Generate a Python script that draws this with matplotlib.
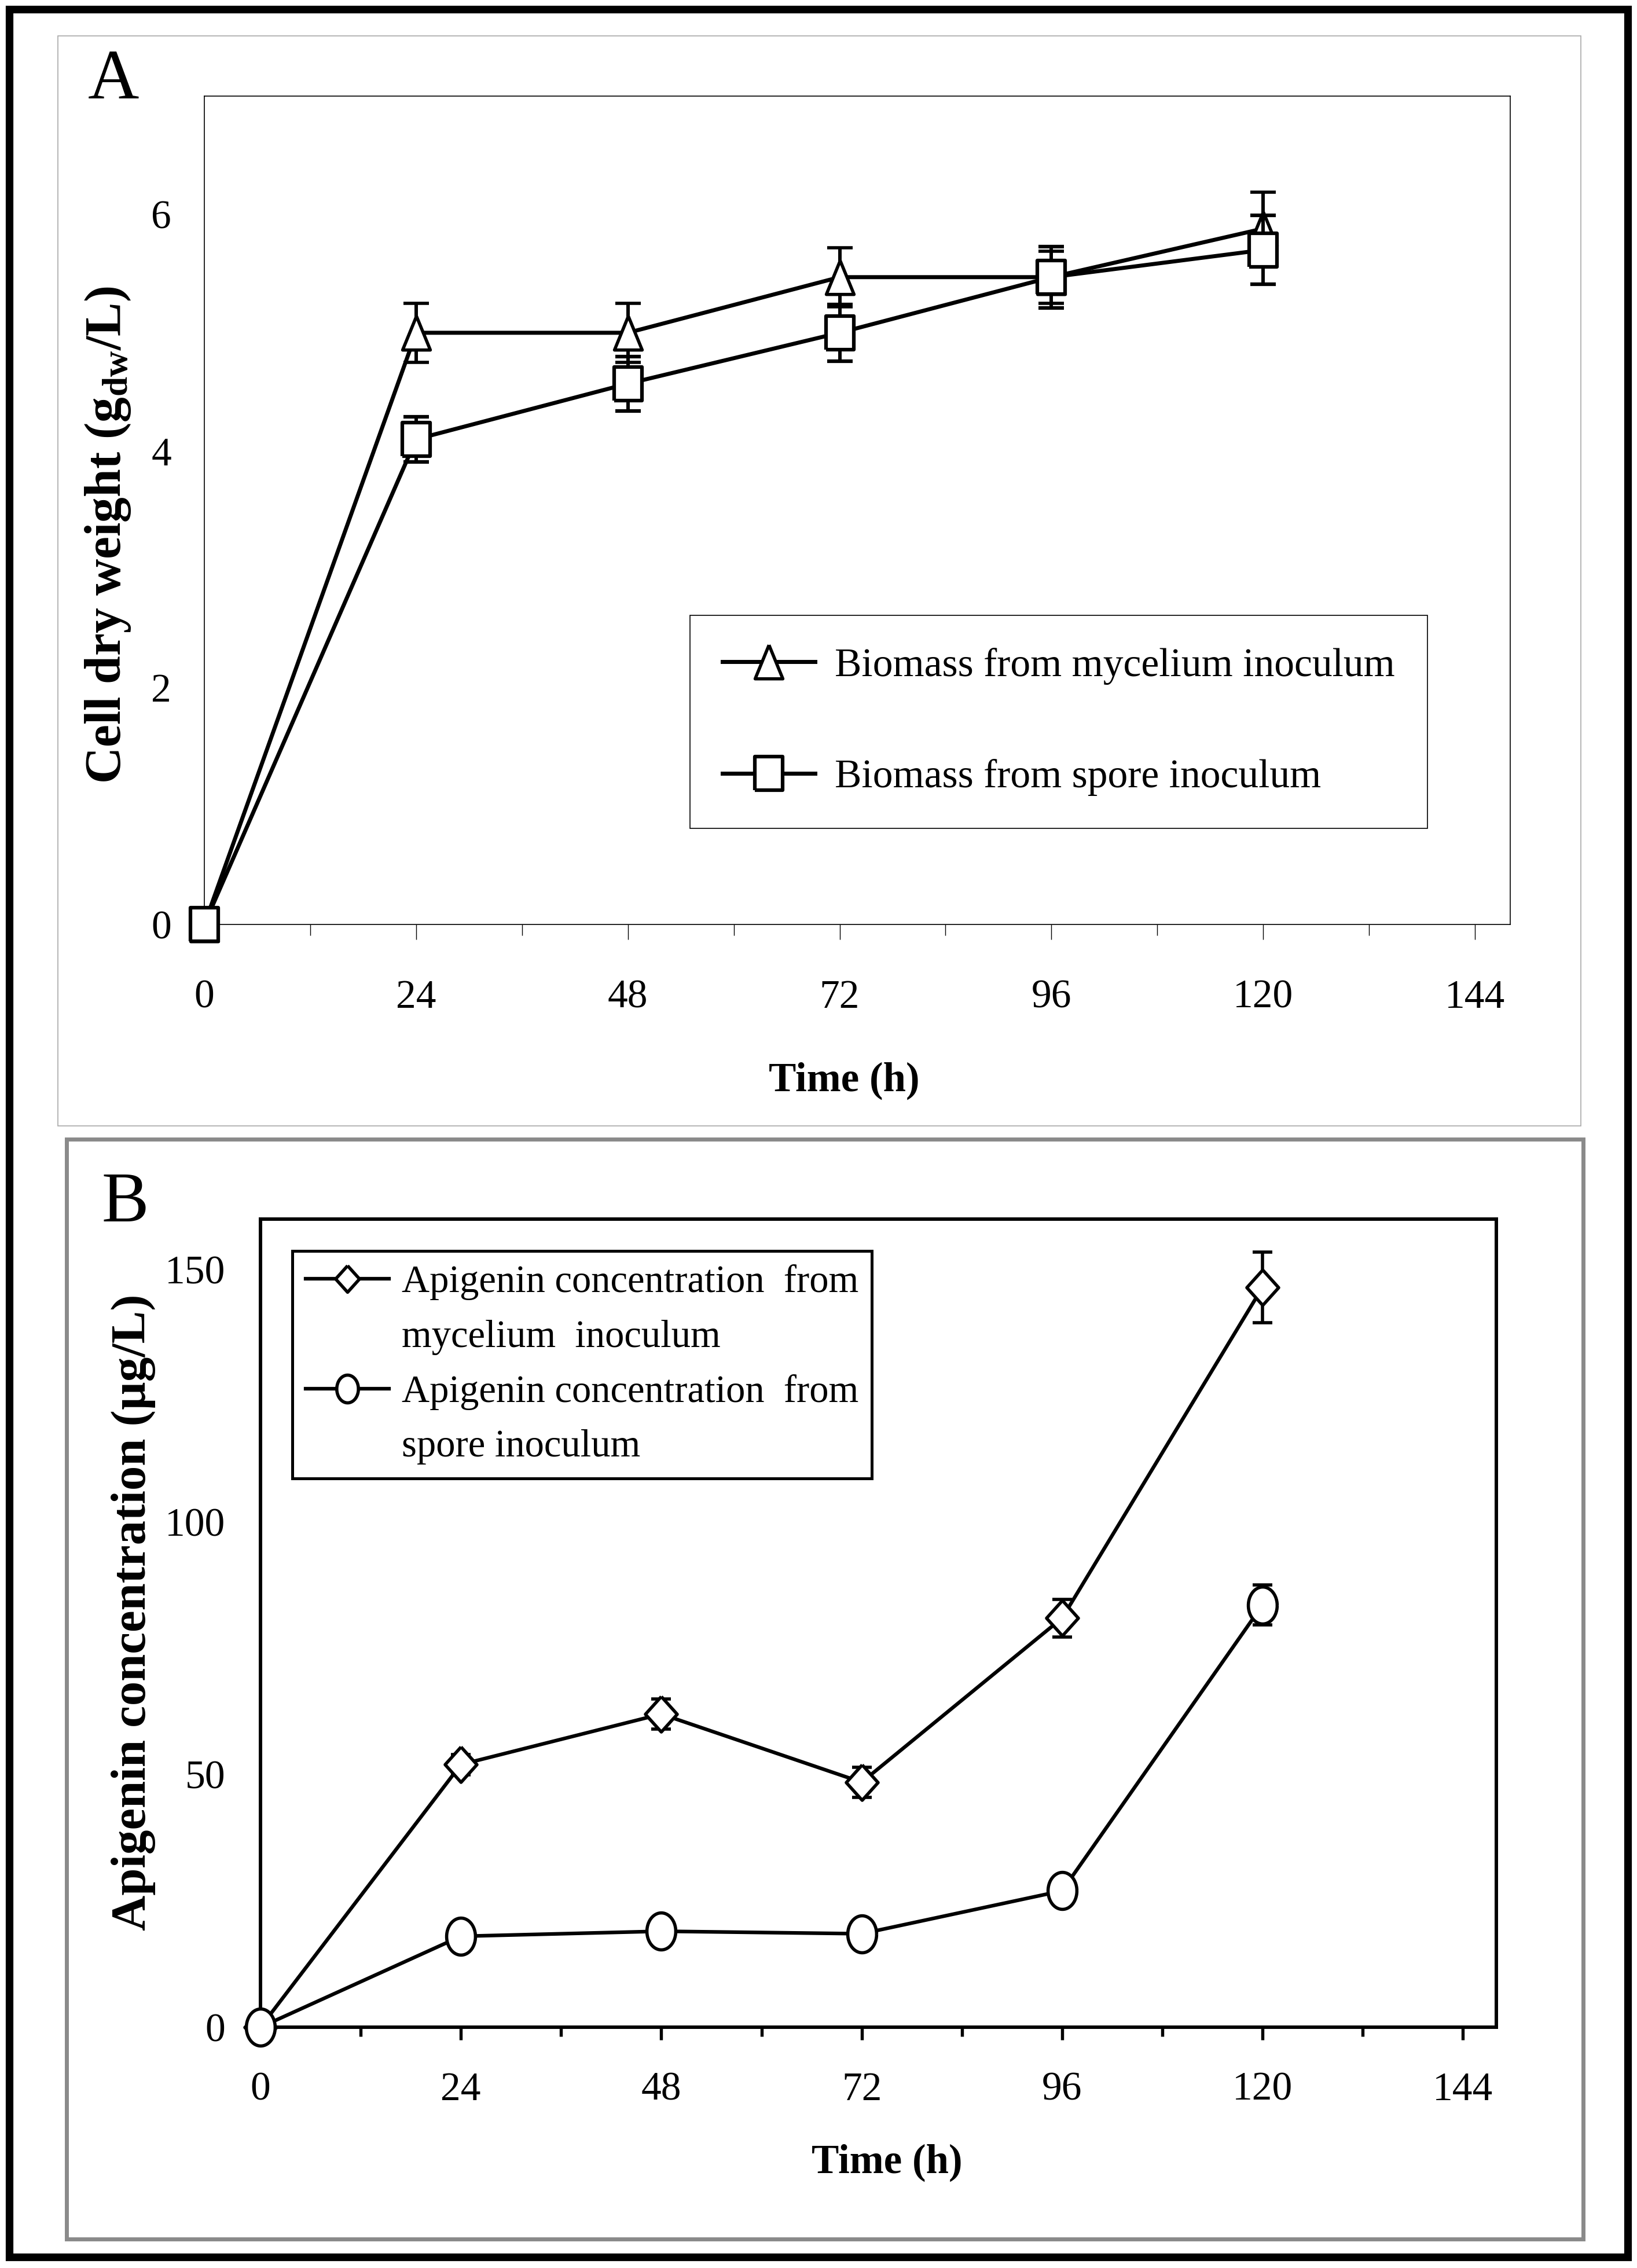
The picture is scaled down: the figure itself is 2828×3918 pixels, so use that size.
import numpy as np
import matplotlib
matplotlib.use("Agg")
import matplotlib.pyplot as plt
from matplotlib.patches import Rectangle
from matplotlib.lines import Line2D
from matplotlib.ticker import MultipleLocator

plt.rcParams.update({"font.family": ["Liberation Serif", "DejaVu Serif"],
                     "mathtext.fontset": "custom", "mathtext.rm": "Liberation Serif",
                     "mathtext.it": "Liberation Serif:italic", "mathtext.bf": "Liberation Serif:bold"})

# ---- data ----
time_h = [0, 24, 48, 72, 96, 120]
biomass_mycelium = [0, 5.0, 5.0, 5.47, 5.47, 5.88]
biomass_mycelium_err = [0, 0.25, 0.25, 0.25, 0.22, 0.31]
biomass_spore = [0, 4.10, 4.57, 5.0, 5.47, 5.70]
biomass_spore_err = [0, 0.19, 0.23, 0.24, 0.26, 0.29]

apigenin_mycelium = [0, 52, 62, 48.5, 81, 146.5]
apigenin_mycelium_err = [0, 2, 3, 3, 3.7, 7]
apigenin_spore = [0, 18, 19, 18.5, 27, 83.6]
apigenin_spore_err = [0, 1, 1, 1, 1, 4]

x_ticks = [0, 24, 48, 72, 96, 120, 144]
ticks_A = [0, 2, 4, 6]
ticks_B = [0, 50, 100, 150]

# ---- figure in pixel units (2828 x 3918) ----
W, H = 2828, 3918
fx = lambda p: p / W
fy = lambda p: 1 - p / H
fig = plt.figure(figsize=(W / 100, H / 100), dpi=100)

# slightly tall marker shapes (source image is stretched vertically)
k = 0.82
tri = [(0, 1), (-k, -1), (k, -1), (0, 1)]
sq = [(-k, -1), (k, -1), (k, 1), (-k, 1), (-k, -1)]
dia = [(0, 1), (-0.9, 0), (0, -1), (0.9, 0), (0, 1)]
t = np.linspace(0, 2 * np.pi, 60)
ell = list(zip(0.78 * np.cos(t), np.sin(t)))

# frames around the panels
fig.add_artist(Rectangle((fx(16), fy(3899)), (2812 - 16) / W, (3899 - 16) / H, transform=fig.transFigure,
                         fill=False, ec="black", lw=9.5))
fig.add_artist(Rectangle((fx(100), fy(1945)), (2731 - 100) / W, (1945 - 62) / H, transform=fig.transFigure,
                         fill=False, ec="#a8a8a8", lw=1.2))
fig.add_artist(Rectangle((fx(115), fy(3868)), (2735 - 115) / W, (3868 - 1968) / H, transform=fig.transFigure,
                         fill=False, ec="#8a8a8a", lw=5))

# ============ Panel A ============
axA = fig.add_axes([fx(353), fy(1597), (2609 - 353) / W, (1597 - 166) / H])
e1 = axA.errorbar(time_h, biomass_mycelium, yerr=biomass_mycelium_err, color="black", lw=5,
                  marker=tri, ms=42, mfc="white", mec="black", mew=4, capsize=16, capthick=4.3,
                  elinewidth=4.3, clip_on=False, zorder=3)
e2 = axA.errorbar(time_h, biomass_spore, yerr=biomass_spore_err, color="black", lw=5,
                  marker=sq, ms=42, mfc="white", mec="black", mew=4.5, capsize=16, capthick=4.3,
                  elinewidth=4.3, clip_on=False, zorder=4)
axA.set_xlim(0, 148); axA.set_ylim(0, 7)
axA.xaxis.set_major_locator(MultipleLocator(24)); axA.xaxis.set_minor_locator(MultipleLocator(12))
axA.set_xticks(x_ticks); axA.set_yticks(ticks_A)
axA.tick_params(axis="x", which="major", direction="out", length=18.7, width=1, pad=50, labelsize=50)
axA.tick_params(axis="x", which="minor", direction="out", length=13.7, width=1)
axA.tick_params(axis="y", length=0, pad=41, labelsize=50)
for s in axA.spines.values():
    s.set_linewidth(1.2); s.set_color("black")
axA.set_xlabel("Time (h)", fontsize=51, fontweight="bold")
axA.xaxis.set_label_coords(0.49, -0.189); axA.xaxis.label.set_va("center")
axA.set_ylabel(r"Cell dry weight (g$_{\mathregular{dw}}$/L)", fontsize=63, fontweight="bold")
axA.yaxis.set_label_coords(-0.074, 0.47); axA.yaxis.label.set_va("center")
legA = axA.legend([e1[0], e2[0]], ["Biomass from mycelium inoculum", "Biomass from spore inoculum"],
                  loc="upper left", bbox_to_anchor=(0.372, 0.373), borderaxespad=0, fontsize=50,
                  handlelength=2.3, handletextpad=0.5, borderpad=0.8, labelspacing=1.85,
                  fancybox=False, framealpha=1, edgecolor="black")
legA.get_frame().set_linewidth(1.2)
fig.text(fx(196), fy(170), "A", fontsize=88, ha="center", va="baseline")

# ============ Panel B ============
axB = fig.add_axes([fx(450), fy(3502), (2585 - 450) / W, (3502 - 2106) / H])
b1 = axB.errorbar(time_h, apigenin_mycelium, yerr=apigenin_mycelium_err, color="black", lw=4.5,
                  marker=dia, ms=44, mfc="white", mec="black", mew=4, capsize=12.4, capthick=4,
                  elinewidth=4, clip_on=False, zorder=3)
b2 = axB.errorbar(time_h, apigenin_spore, yerr=apigenin_spore_err, color="black", lw=4.5,
                  marker=ell, ms=46, mfc="white", mec="black", mew=4, capsize=12.4, capthick=4,
                  elinewidth=4, clip_on=False, zorder=4)
axB.set_xlim(0, 148); axB.set_ylim(0, 160)
axB.xaxis.set_major_locator(MultipleLocator(24)); axB.xaxis.set_minor_locator(MultipleLocator(12))
axB.set_xticks(x_ticks); axB.set_yticks(ticks_B)
axB.tick_params(axis="x", which="major", direction="out", length=15.8, width=3.9, pad=40, labelsize=50)
axB.tick_params(axis="x", which="minor", direction="out", length=11.5, width=3.9)
axB.tick_params(axis="y", length=0, pad=44, labelsize=50)
for s in axB.spines.values():
    s.set_linewidth(4.3); s.set_color("black")
axB.set_xlabel("Time (h)", fontsize=51, fontweight="bold")
axB.xaxis.set_label_coords(0.507, -0.168); axB.xaxis.label.set_va("center")
axB.set_ylabel("Apigenin concentration (µg/L)", fontsize=61, fontweight="bold")
axB.yaxis.set_label_coords(-0.1026, 0.5136); axB.yaxis.label.set_va("center")
blank = Line2D([], [], color="none")
legB = axB.legend([b1[0], blank, b2[0], blank],
                  ["Apigenin concentration  from", "mycelium  inoculum",
                   "Apigenin concentration  from", "spore inoculum"],
                  loc="upper left", bbox_to_anchor=(0.0258, 0.9606), borderaxespad=0, fontsize=48,
                  handlelength=2.15, handletextpad=0.33, borderpad=0.35, labelspacing=0.5,
                  markerscale=0.75, fancybox=False, framealpha=1, edgecolor="black")
legB.get_frame().set_linewidth(3.6)
fig.text(fx(216), fy(2110), "B", fontsize=88, ha="center", va="baseline")

fig.savefig("out.png", dpi=100, facecolor="white")
